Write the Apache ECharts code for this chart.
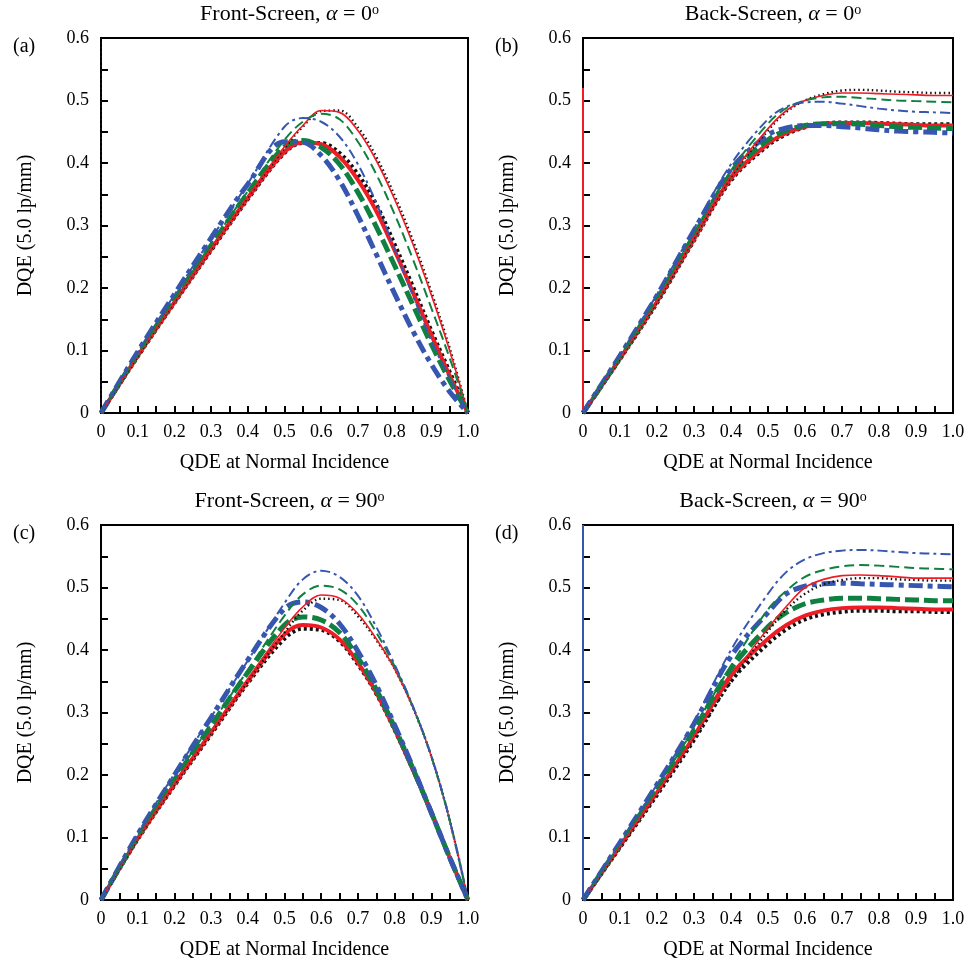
<!DOCTYPE html>
<html>
<head>
<meta charset="utf-8">
<script src="https://cdn.jsdelivr.net/npm/echarts@6/dist/echarts.min.js"></script>
<style>html,body{margin:0;padding:0;background:#fff}#c{width:969px;height:962px}</style>
</head>
<body>
<div id="c"></div>
<script>
// ---- data ----
const qde = [0, 0.1, 0.2, 0.3, 0.4, 0.5, 0.55, 0.6, 0.65, 0.7, 0.75, 0.8, 0.85, 0.9, 0.95, 1.0];
const xTickLabels = ['0','0.1','0.2','0.3','0.4','0.5','0.6','0.7','0.8','0.9','1.0'];
const yTickLabels = ['0','0.1','0.2','0.3','0.4','0.5','0.6'];
const panelTitles = ['Front-Screen', 'Back-Screen', 'Front-Screen', 'Back-Screen'];
const panelAngles = ['0', '0', '90', '90'];
const panelLetters = ['(a)', '(b)', '(c)', '(d)'];

// (a) Front-Screen, alpha = 0
const aThinBlack  = [0,0.091,0.178,0.263,0.345,0.424,0.458,0.483,0.484,0.457,0.410,0.348,0.276,0.194,0.104,0];
const aThinRed    = [0,0.092,0.179,0.264,0.347,0.426,0.460,0.484,0.481,0.452,0.404,0.342,0.270,0.189,0.100,0];
const aThinGreen  = [0,0.094,0.183,0.270,0.355,0.437,0.466,0.479,0.470,0.434,0.382,0.318,0.246,0.168,0.088,0];
const aThinBlue   = [0,0.097,0.189,0.279,0.367,0.458,0.472,0.466,0.442,0.398,0.336,0.262,0.188,0.116,0.055,0];
const aThickBlack = [0,0.090,0.176,0.260,0.342,0.416,0.432,0.432,0.416,0.382,0.334,0.270,0.202,0.132,0.066,0];
const aThickRed   = [0,0.091,0.177,0.262,0.344,0.418,0.433,0.430,0.410,0.373,0.323,0.260,0.193,0.125,0.060,0];
const aThickGreen = [0,0.094,0.182,0.268,0.352,0.426,0.436,0.425,0.398,0.353,0.298,0.236,0.173,0.110,0.052,0];
const aThickBlue  = [0,0.098,0.190,0.280,0.366,0.434,0.433,0.412,0.372,0.316,0.254,0.191,0.131,0.078,0.034,0];

// (b) Back-Screen, alpha = 0
const bThinBlack  = [0,0.087,0.178,0.280,0.378,0.452,0.482,0.500,0.510,0.516,0.517,0.516,0.514,0.513,0.512,0.512];
const bThinRed    = [0,0.088,0.180,0.282,0.380,0.455,0.484,0.500,0.508,0.512,0.512,0.511,0.510,0.509,0.508,0.508];
const bThinGreen  = [0,0.090,0.184,0.287,0.388,0.463,0.488,0.500,0.505,0.506,0.504,0.502,0.500,0.499,0.498,0.497];
const bThinBlue   = [0,0.093,0.190,0.295,0.398,0.470,0.490,0.497,0.498,0.495,0.491,0.487,0.484,0.482,0.481,0.480];
const bThickBlack = [0,0.086,0.176,0.276,0.372,0.428,0.446,0.457,0.463,0.465,0.465,0.464,0.463,0.462,0.462,0.462];
const bThickRed   = [0,0.087,0.178,0.278,0.375,0.431,0.448,0.458,0.463,0.464,0.464,0.463,0.462,0.461,0.460,0.460];
const bThickGreen = [0,0.089,0.182,0.284,0.382,0.437,0.452,0.460,0.463,0.463,0.462,0.460,0.458,0.457,0.456,0.455];
const bThickBlue  = [0,0.092,0.188,0.292,0.390,0.445,0.456,0.460,0.460,0.458,0.456,0.453,0.451,0.450,0.449,0.448];

// (c) Front-Screen, alpha = 90
const cThinBlack  = [0,0.098,0.185,0.268,0.350,0.428,0.463,0.482,0.480,0.454,0.416,0.370,0.308,0.230,0.128,0];
const cThinRed    = [0,0.099,0.187,0.270,0.354,0.435,0.469,0.488,0.483,0.458,0.418,0.370,0.308,0.230,0.128,0];
const cThinGreen  = [0,0.102,0.194,0.281,0.368,0.455,0.489,0.503,0.497,0.472,0.428,0.374,0.309,0.230,0.128,0];
const cThinBlue   = [0,0.106,0.202,0.293,0.383,0.475,0.513,0.527,0.517,0.487,0.437,0.377,0.310,0.230,0.128,0];
const cThickBlack = [0,0.097,0.183,0.265,0.347,0.418,0.434,0.432,0.414,0.377,0.330,0.272,0.208,0.140,0.068,0];
const cThickRed   = [0,0.098,0.185,0.268,0.350,0.425,0.440,0.436,0.417,0.380,0.332,0.273,0.208,0.140,0.068,0];
const cThickGreen = [0,0.101,0.192,0.279,0.364,0.440,0.453,0.448,0.428,0.388,0.337,0.276,0.210,0.140,0.068,0];
const cThickBlue  = [0,0.105,0.200,0.292,0.384,0.466,0.477,0.468,0.442,0.398,0.344,0.280,0.212,0.140,0.068,0];

// (d) Back-Screen, alpha = 90
const dThinBlack  = [0,0.084,0.170,0.258,0.350,0.430,0.465,0.490,0.505,0.512,0.515,0.515,0.513,0.512,0.511,0.511];
const dThinRed    = [0,0.086,0.172,0.262,0.355,0.435,0.470,0.500,0.513,0.519,0.520,0.519,0.517,0.515,0.515,0.515];
const dThinGreen  = [0,0.090,0.180,0.275,0.375,0.465,0.495,0.517,0.528,0.534,0.536,0.535,0.533,0.531,0.530,0.529];
const dThinBlue   = [0,0.092,0.185,0.285,0.400,0.490,0.525,0.545,0.555,0.559,0.560,0.559,0.557,0.555,0.554,0.553];
const dThickBlack = [0,0.084,0.168,0.256,0.350,0.410,0.433,0.449,0.457,0.461,0.463,0.463,0.462,0.462,0.461,0.461];
const dThickRed   = [0,0.086,0.172,0.262,0.360,0.418,0.440,0.455,0.463,0.467,0.468,0.468,0.467,0.466,0.465,0.465];
const dThickGreen = [0,0.089,0.178,0.272,0.370,0.437,0.460,0.474,0.480,0.483,0.483,0.482,0.481,0.480,0.479,0.479];
const dThickBlue  = [0,0.092,0.185,0.282,0.390,0.460,0.490,0.502,0.506,0.507,0.506,0.505,0.504,0.503,0.502,0.501];

// vertical segments along the QDE = 0 axis (top DQE reached)
const axisSegA = {black: 0.6};
const axisSegB = {green: 0.41, blue: 0.27, red: 0.52};
const axisSegD = {green: 0.6, red: 0.6, blue: 0.6};

const panels = [
  {thin: [aThinBlack, aThinRed, aThinGreen, aThinBlue], thick: [aThickBlack, aThickRed, aThickGreen, aThickBlue], seg: axisSegA},
  {thin: [bThinBlack, bThinRed, bThinGreen, bThinBlue], thick: [bThickBlack, bThickRed, bThickGreen, bThickBlue], seg: axisSegB},
  {thin: [cThinBlack, cThinRed, cThinGreen, cThinBlue], thick: [cThickBlack, cThickRed, cThickGreen, cThickBlue], seg: {}},
  {thin: [dThinBlack, dThinRed, dThinGreen, dThinBlue], thick: [dThickBlack, dThickRed, dThickGreen, dThickBlue], seg: axisSegD}
];

// ---- styles ----
const FONT = 'Liberation Serif';
const COL = {black: '#111111', red: '#ee1c25', green: '#108040', blue: '#3656b0'};
const styleKeys = ['black', 'red', 'green', 'blue'];
const thinStyle = {
  black: {w: 2.4, type: [1.5, 3]},
  red:   {w: 1.6, type: 'solid'},
  green: {w: 2,   type: [10, 5]},
  blue:  {w: 2,   type: [10, 4, 3, 4]}
};
const thickStyle = {
  black: {w: 4, type: [3, 3]},
  red:   {w: 4, type: 'solid'},
  green: {w: 5, type: [14, 5]},
  blue:  {w: 5, type: [14, 5, 5, 5]}
};

const gridPos = [
  {left: 101, top: 38, width: 367, height: 375},
  {left: 583, top: 38, width: 370, height: 375},
  {left: 101, top: 525, width: 367, height: 375},
  {left: 583, top: 525, width: 370, height: 375}
];

const fmtX = v => {
  const i = Math.round(v * 10);
  if (Math.abs(v * 10 - i) > 1e-6) return '';
  return xTickLabels[i];
};
const fmtY = v => {
  const i = Math.round(v * 10);
  if (Math.abs(v * 10 - i) > 1e-6) return '';
  return yTickLabels[i];
};

const grids = [], xAxes = [], yAxes = [], series = [], titles = [];
gridPos.forEach((g, i) => {
  grids.push(Object.assign({show: true, borderColor: '#000', borderWidth: 2, backgroundColor: '#fff'}, g));
  const baseX = {gridIndex: i, type: 'value', min: 0, max: 1, interval: 0.05,
    splitLine: {show: false}};
  xAxes.push(Object.assign({}, baseX, {
    name: 'QDE at Normal Incidence', nameLocation: 'middle', nameGap: 40,
    nameTextStyle: {fontFamily: FONT, fontSize: 20, color: '#000'},
    axisLine: {show: true, onZero: false, lineStyle: {color: '#000', width: 2}},
    axisTick: {show: true, inside: true, length: 7, lineStyle: {color: '#000', width: 2}},
    axisLabel: {show: true, formatter: fmtX, fontFamily: FONT, fontSize: 18, color: '#000', margin: 10, showMinLabel: true, showMaxLabel: true, hideOverlap: false}
  }));
  xAxes.push(Object.assign({}, baseX, {
    axisLine: {show: false}, axisLabel: {show: false},
    axisTick: {show: true, inside: false, length: 3, lineStyle: {color: '#000', width: 2}}
  }));
  const baseY = {gridIndex: i, type: 'value', min: 0, max: 0.6, interval: 0.05, splitLine: {show: false}};
  yAxes.push(Object.assign({}, baseY, {
    name: 'DQE (5.0 lp/mm)', nameLocation: 'middle', nameGap: 65,
    nameTextStyle: {fontFamily: FONT, fontSize: 20, color: '#000'},
    axisLine: {show: true, onZero: false, lineStyle: {color: '#000', width: 2}},
    axisTick: {show: true, inside: true, length: 6, lineStyle: {color: '#000', width: 2}},
    axisLabel: {show: true, formatter: fmtY, fontFamily: FONT, fontSize: 18, color: '#000', margin: 12, showMinLabel: true, showMaxLabel: true, hideOverlap: false}
  }));
  yAxes.push(Object.assign({}, baseY, {
    axisLine: {show: false}, axisLabel: {show: false},
    axisTick: {show: true, inside: false, length: 7, lineStyle: {color: '#000', width: 2}}
  }));

  titles.push({
    text: '{n|' + panelTitles[i] + ', }{a|α}{n| = ' + panelAngles[i] + '}{s|o}',
    left: g.left + g.width / 2, top: g.top - 40, textAlign: 'center',
    textStyle: {fontWeight: 'normal', fontFamily: FONT, rich: {
      n: {fontFamily: FONT, fontSize: 22, fontWeight: 'normal', color: '#000'},
      a: {fontFamily: FONT, fontSize: 22, fontWeight: 'normal', fontStyle: 'italic', color: '#000'},
      s: {fontFamily: FONT, fontSize: 14, fontWeight: 'normal', color: '#000', verticalAlign: 'top', padding: [0, 0, 9, 0]}
    }}
  });
  titles.push({
    text: panelLetters[i], left: g.left - 93, top: g.top - 6,
    textStyle: {fontFamily: FONT, fontSize: 20, fontWeight: 'normal', color: '#000'}
  });

  const p = panels[i];
  const xi = i * 2, yi = i * 2;
  // vertical segments at QDE = 0
  Object.keys(p.seg).forEach(k => {
    series.push({type: 'line', xAxisIndex: xi, yAxisIndex: yi, symbol: 'none', silent: true,
      data: [[0, 0], [0, p.seg[k]]],
      lineStyle: {color: COL[k], width: 2, type: k === 'black' ? [1.5, 3] : 'solid'}, z: 1});
  });
  const addSet = (arrs, st, zb) => {
    arrs.forEach((arr, j) => {
      const k = styleKeys[j];
      series.push({
        type: 'line', xAxisIndex: xi, yAxisIndex: yi, symbol: 'none', smooth: 0.35, silent: true,
        data: qde.map((x, n) => [x, arr[n]]),
        lineStyle: {color: COL[k], width: st[k].w, type: st[k].type, cap: 'butt'},
        z: zb + j
      });
    });
  };
  addSet(p.thick, thickStyle, 2);
  addSet(p.thin, thinStyle, 10);
});

const chart = echarts.init(document.getElementById('c'), null, {renderer: 'canvas'});
chart.setOption({
  animation: false,
  backgroundColor: '#fff',
  title: titles,
  grid: grids,
  xAxis: xAxes,
  yAxis: yAxes,
  series: series
});
</script>
</body>
</html>
